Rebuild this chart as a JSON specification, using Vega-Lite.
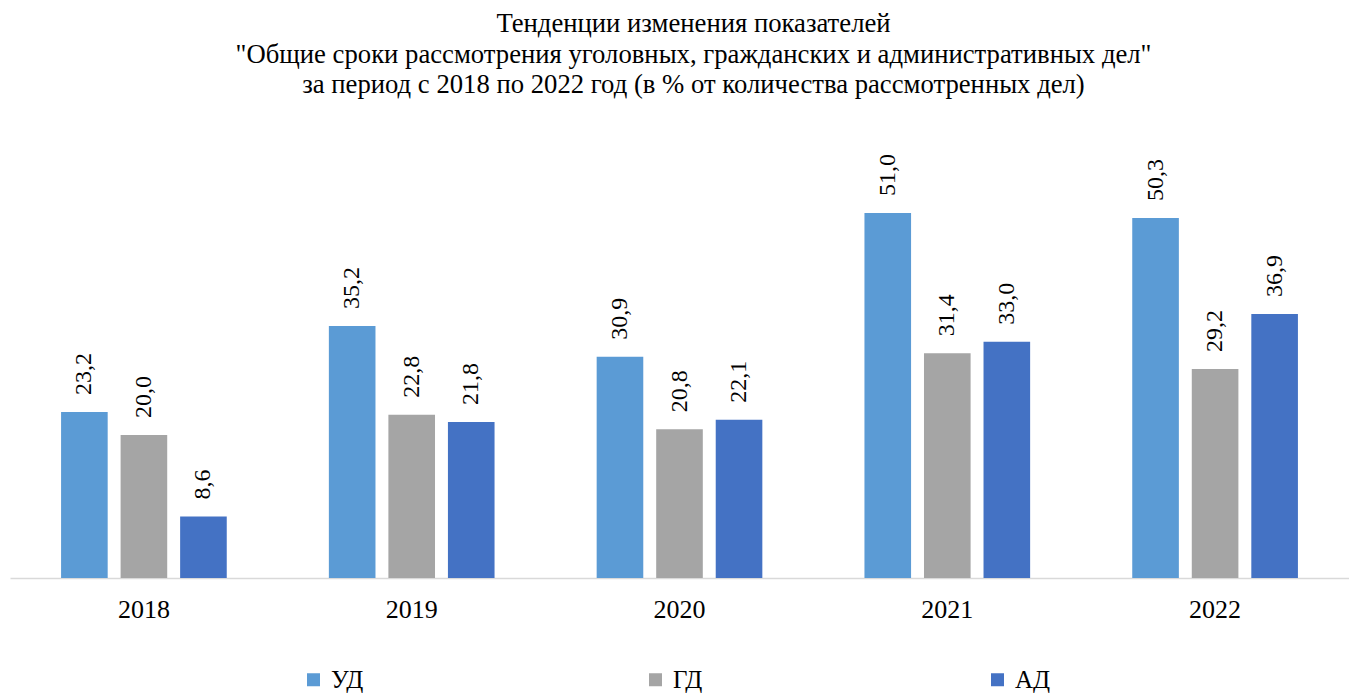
{
  "$schema": "https://vega.github.io/schema/vega-lite/v6.json",
  "autosize": {"type": "none"},
  "width": 1339,
  "height": 458,
  "padding": {"left": 10, "top": 120, "right": 0, "bottom": 115},
  "background": "white",
  "config": {
    "font": "Liberation Serif",
    "view": {"stroke": null},
    "locale": {"number": {"decimal": ",", "thousands": " ", "grouping": [3], "currency": ["", ""]}}
  },
  "title": {
    "text": ["Тенденции изменения показателей", "\"Общие сроки рассмотрения уголовных, гражданских и административных дел\"", "за период с 2018 по 2022 год (в % от количества рассмотренных дел)"],
    "font": "Liberation Serif",
    "fontSize": 26.7,
    "fontWeight": "normal",
    "color": "#000000",
    "lineHeight": 30.5,
    "anchor": "middle",
    "dx": 14,
    "offset": 21
  },
  "data": {
    "values": [
      {"year": "2018", "type": "УД", "value": 23.2},
      {"year": "2018", "type": "ГД", "value": 20.0},
      {"year": "2018", "type": "АД", "value": 8.6},
      {"year": "2019", "type": "УД", "value": 35.2},
      {"year": "2019", "type": "ГД", "value": 22.8},
      {"year": "2019", "type": "АД", "value": 21.8},
      {"year": "2020", "type": "УД", "value": 30.9},
      {"year": "2020", "type": "ГД", "value": 20.8},
      {"year": "2020", "type": "АД", "value": 22.1},
      {"year": "2021", "type": "УД", "value": 51.0},
      {"year": "2021", "type": "ГД", "value": 31.4},
      {"year": "2021", "type": "АД", "value": 33.0},
      {"year": "2022", "type": "УД", "value": 50.3},
      {"year": "2022", "type": "ГД", "value": 29.2},
      {"year": "2022", "type": "АД", "value": 36.9}
    ]
  },
  "encoding": {
    "x": {
      "field": "year",
      "type": "nominal",
      "scale": {"paddingInner": 0.3333, "paddingOuter": 0.1667},
      "axis": {
        "title": null,
        "labelAngle": 0,
        "labelFont": "Liberation Serif",
        "labelFontSize": 26,
        "labelColor": "#000000",
        "labelPadding": 18,
        "ticks": false,
        "domainColor": "#d9d9d9",
        "domainWidth": 1.5,
        "grid": false
      }
    },
    "xOffset": {
      "field": "type",
      "type": "nominal",
      "sort": ["УД", "ГД", "АД"],
      "scale": {"paddingInner": 0.217, "paddingOuter": 0.108}
    },
    "y": {
      "field": "value",
      "type": "quantitative",
      "scale": {"domain": [0, 64], "nice": false, "zero": true},
      "axis": null
    }
  },
  "layer": [
    {
      "mark": {"type": "bar"},
      "encoding": {
        "color": {
          "field": "type",
          "type": "nominal",
          "sort": ["УД", "ГД", "АД"],
          "scale": {"domain": ["УД", "ГД", "АД"], "range": ["#5B9BD5", "#A5A5A5", "#4472C4"]},
          "legend": {
            "title": null,
            "orient": "none",
            "legendX": 291,
            "legendY": 547,
            "direction": "horizontal",
            "columns": 3,
            "gridAlign": "all",
            "columnPadding": 276,
            "symbolType": "square",
            "symbolSize": 169,
            "symbolStrokeWidth": 0,
            "symbolOffset": 0,
            "labelOffset": 5,
            "labelFont": "Liberation Serif",
            "labelFontSize": 25,
            "labelColor": "#000000"
          }
        }
      }
    },
    {
      "mark": {"type": "text", "angle": 270, "align": "left", "baseline": "middle", "dx": 17, "fontSize": 24, "font": "Liberation Serif", "color": "#000000"},
      "encoding": {
        "text": {"field": "value", "type": "quantitative", "format": ".1f"}
      }
    }
  ]
}
